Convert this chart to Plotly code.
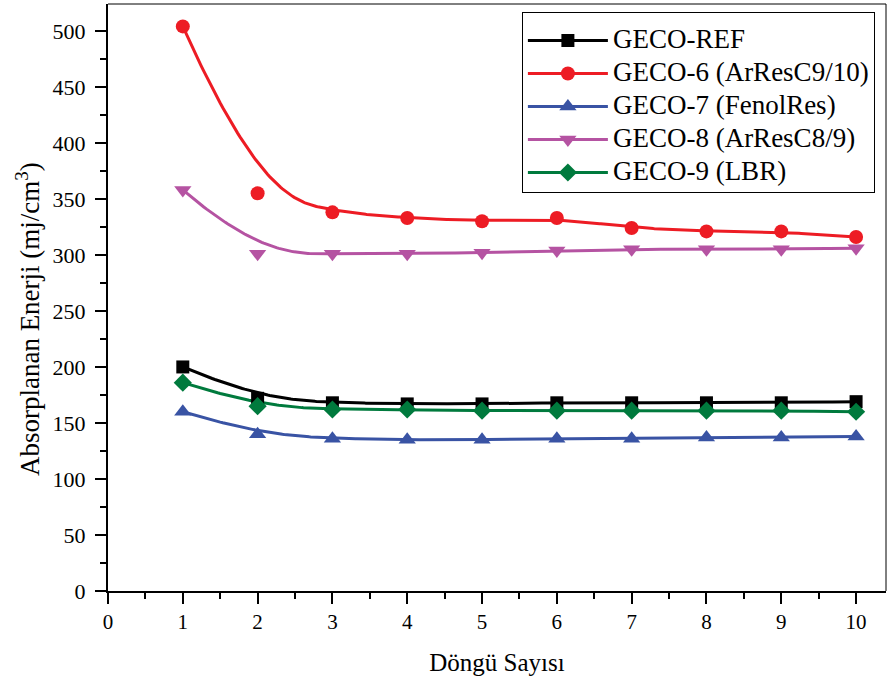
import numpy as np
import plotly.graph_objects as go

# Cycle number and absorbed energy per sample (mj/cm^3)
cycles = [1, 2, 3, 4, 5, 6, 7, 8, 9, 10]
geco_ref = [200, 172, 168, 167, 167, 168, 168, 168, 168, 169]
geco_6 = [504, 355, 338, 333, 330, 333, 324, 321, 321, 316]
geco_7 = [160, 140, 136, 135, 135, 136, 136, 137, 137, 138]
geco_8 = [358, 301, 301, 301, 302, 304, 305, 305, 305, 306]
geco_9 = [186, 165, 162, 162, 161, 161, 161, 161, 161, 160]

names = ["GECO-REF", "GECO-6 (ArResC9/10)", "GECO-7 (FenolRes)",
         "GECO-8 (ArResC8/9)", "GECO-9 (LBR)"]
series = [geco_ref, geco_6, geco_7, geco_8, geco_9]
colors = ["#000000", "#ED1C24", "#3953A4", "#B553A2", "#007A3D"]
symbols = ["square", "circle", "triangle-up", "triangle-down", "diamond"]
sizes = [13, 14, 15, 15, 14]


def bspline(px, py, k=3, samples=500):
    """Clamped uniform B-spline using the data points as control points."""
    px = np.asarray(px, float)
    py = np.asarray(py, float)
    n = len(px)
    knots = np.concatenate([np.zeros(k), np.arange(n - k + 1), np.full(k, n - k)]).astype(float)
    t = np.linspace(0, n - k, samples)
    t[-1] -= 1e-9
    m = len(knots) - 1
    B = np.zeros((samples, m))
    for i in range(m):
        B[:, i] = (t >= knots[i]) & (t < knots[i + 1])
    for d in range(1, k + 1):
        Bn = np.zeros((samples, m - d))
        for i in range(m - d):
            left = 0.0
            right = 0.0
            den1 = knots[i + d] - knots[i]
            den2 = knots[i + d + 1] - knots[i + 1]
            if den1 > 0:
                left = (t - knots[i]) / den1 * B[:, i]
            if den2 > 0:
                right = (knots[i + d + 1] - t) / den2 * B[:, i + 1]
            Bn[:, i] = left + right
        B = Bn
    B = B[:, :n]
    return B @ px, B @ py


fig = go.Figure()

# smoothed curves
for ys, c in zip(series, colors):
    cx, cy = bspline(cycles, ys)
    fig.add_trace(go.Scatter(x=cx, y=cy, mode="lines", line=dict(color=c, width=3),
                             showlegend=False, hoverinfo="skip"))

# measured points
for ys, c, s, sz in zip(series, colors, symbols, sizes):
    fig.add_trace(go.Scatter(x=cycles, y=ys, mode="markers",
                             marker=dict(color=c, symbol=s, size=sz, line=dict(width=0)),
                             showlegend=False))

# legend entries (text enlarged inline, row height driven by the legend font)
for i, (nm, c, s, sz) in enumerate(zip(names, colors, symbols, sizes)):
    fig.add_trace(go.Scatter(x=[None], y=[None], mode="lines+markers",
                             name=f"<span style='font-size:27px'>{nm}</span>",
                             legendgroup=f"g{i}",
                             line=dict(color=c, width=3),
                             marker=dict(color=c, symbol=s, size=sz, line=dict(width=0))))

font_family = "Liberation Serif"

fig.update_layout(
    width=887, height=682,
    margin=dict(l=108, r=1, t=4, b=91),
    paper_bgcolor="white", plot_bgcolor="white",
    font=dict(family=font_family, color="black"),
    showlegend=True,
    legend=dict(x=0.532, y=0.986, xanchor="left", yanchor="top",
                bordercolor="black", borderwidth=1, bgcolor="white",
                font=dict(family=font_family, size=20, color="black"),
                title=dict(text=" ", font=dict(size=6)),
                tracegroupgap=4, itemwidth=80),
    xaxis=dict(range=[0, 10.4], tick0=0, dtick=1, ticks="outside", ticklen=11,
               tickwidth=2, tickcolor="black", showline=True, linecolor="black",
               linewidth=2, showgrid=False, zeroline=False,
               tickfont=dict(family=font_family, size=21),
               minor=dict(ticks="outside", ticklen=6, tickwidth=2, dtick=0.5,
                          tickcolor="black", showgrid=False),
               title=dict(text="Döngü Sayısı", font=dict(family=font_family, size=25),
                          standoff=20)),
    yaxis=dict(range=[0, 524], tick0=0, dtick=50, ticks="outside", ticklen=11,
               tickwidth=2, tickcolor="black", showline=True, linecolor="black",
               linewidth=2, showgrid=False, zeroline=False,
               tickfont=dict(family=font_family, size=22), ticklabelstandoff=5,
               minor=dict(ticks="outside", ticklen=6, tickwidth=2, dtick=25,
                          tickcolor="black", showgrid=False)),
)

# y-axis title, set slightly below the middle of the axis
fig.add_annotation(text="Absorplanan Enerji (mj/cm<sup>3</sup>)", xref="paper", yref="paper",
                   x=-0.103, y=0.463, xanchor="center", yanchor="middle",
                   textangle=-90, showarrow=False,
                   font=dict(family=font_family, size=27, color="black"))

# thin frame on top and right
fig.add_shape(type="line", xref="paper", yref="paper", x0=0, x1=1, y0=1, y1=1,
              line=dict(color="black", width=1))
fig.add_shape(type="line", xref="paper", yref="paper", x0=1, x1=1, y0=0, y1=1,
              line=dict(color="black", width=1))

fig.write_html("out.html")
